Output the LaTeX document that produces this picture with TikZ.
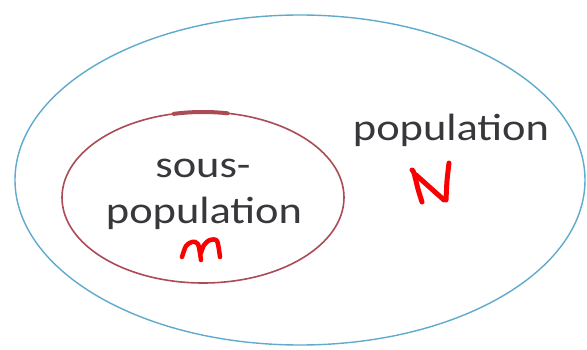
\documentclass[tikz,border=0pt]{standalone}
\usepackage{fontspec}
\setmainfont{Carlito}[FakeStretch=1.17]
\usetikzlibrary{shapes.geometric}
\definecolor{outerblue}{RGB}{95,170,205}
\definecolor{innerred}{RGB}{170,75,85}
\definecolor{txtgray}{RGB}{55,55,60}
\definecolor{handred}{RGB}{250,0,0}
\tikzset{
  set/.style={ellipse, draw, inner sep=0pt},
  lbl/.style={text=txtgray, font=\fontsize{38}{40}\selectfont, inner sep=0pt, align=center},
  hand/.style={draw=handred, line width=5pt, line cap=round, line join=round}
}
\begin{document}
\begin{tikzpicture}[x=1pt,y=1pt]
\useasboundingbox (0,0) rectangle (587,349);
\fill[white] (0,0) rectangle (587,349);
\node[set, draw=outerblue, line width=1.4pt, minimum width=570pt, minimum height=330pt] (pop) at (300,169) {};
\node[set, draw=innerred, line width=1.6pt, minimum width=282pt, minimum height=171pt] (sub) at (203,151.5) {};
\draw[innerred, line width=4pt, line cap=round] (203,151.5) ++(80:141pt and 85.5pt) arc[start angle=80, end angle=102, x radius=141pt, y radius=85.5pt];
\node[lbl] (sous) at (203,181) {sous-};
\node[lbl] (subpop) at (204,136) {population};
\node[lbl] (poplbl) at (451,219) {population};
% handwritten N
\draw[hand] plot[smooth] coordinates {(412,179) (414,176) (418,160) (422,147)};
\draw[hand] (416,174) -- (444,149);
\draw[hand] plot[smooth] coordinates {(449,186) (447,168) (446,149)};
% handwritten m
\draw[hand, line width=4.5pt] plot[smooth] coordinates {(182,92) (186,103) (192,107) (198,105) (201,89)};
\draw[hand, line width=4.5pt] plot[smooth] coordinates {(201,96) (204,104) (210,109) (217,108) (220,92)};
\end{tikzpicture}
\end{document}
